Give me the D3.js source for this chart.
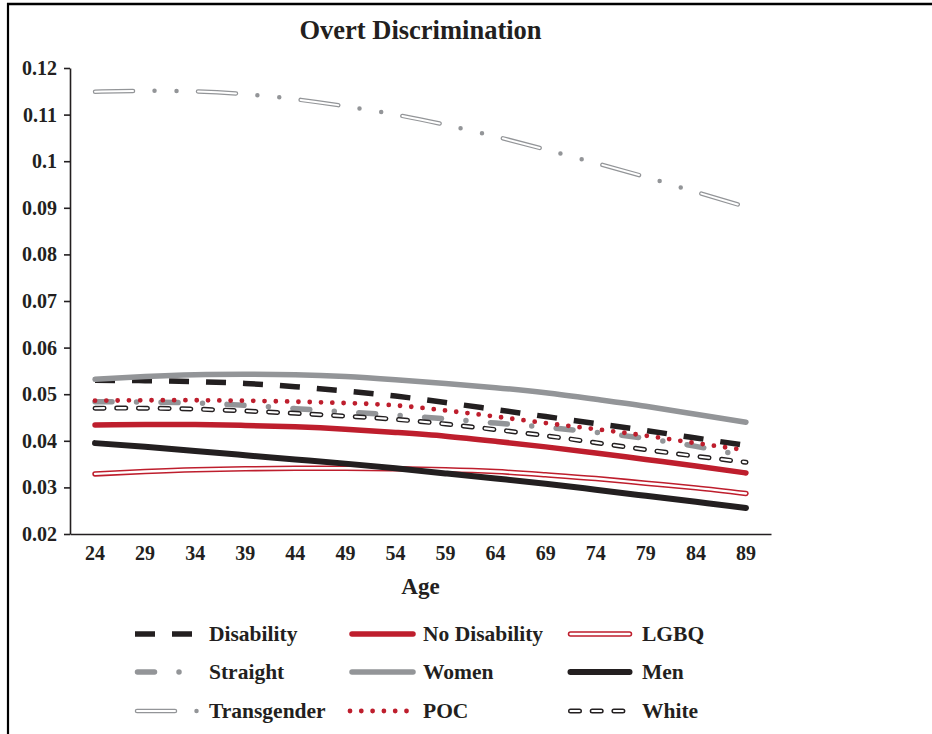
<!DOCTYPE html>
<html>
<head>
<meta charset="utf-8">
<title>Overt Discrimination</title>
<style>
  body { margin: 0; background: #fff; }
  svg { font-family: "Liberation Serif", "Times New Roman", serif; font-weight: bold; }
  .axis path, .axis line { stroke: #231f20; stroke-width: 1.6; }
  .axis text { fill: #231f20; font-size: 20px; font-family: "Liberation Serif", serif; font-weight: bold; }
</style>
</head>
<body>
<div id="chart"></div>
<script src="https://cdn.jsdelivr.net/npm/d3@7"></script>
<script>
// ages on the x axis
var ages = [24, 29, 34, 39, 44, 49, 54, 59, 64, 69, 74, 79, 84, 89];
var yTicks = [0.02, 0.03, 0.04, 0.05, 0.06, 0.07, 0.08, 0.09, 0.1, 0.11, 0.12];

// predicted values
var disability   = [0.0530, 0.0529, 0.0527, 0.0523, 0.0516, 0.0507, 0.0496, 0.0482, 0.0467, 0.0452, 0.0437, 0.0422, 0.0406, 0.0390];
var noDisability = [0.0434, 0.0435, 0.0435, 0.0433, 0.0430, 0.0425, 0.0418, 0.0410, 0.0399, 0.0387, 0.0374, 0.0360, 0.0346, 0.0331];
var lgbq         = [0.0329, 0.0334, 0.0338, 0.0340, 0.0341, 0.0341, 0.0340, 0.0338, 0.0334, 0.0327, 0.0319, 0.0309, 0.0299, 0.0287];
var straight     = [0.0484, 0.0483, 0.0481, 0.0476, 0.0469, 0.0462, 0.0455, 0.0447, 0.0438, 0.0429, 0.0418, 0.0405, 0.0388, 0.0367];
var women        = [0.0532, 0.0538, 0.0542, 0.0543, 0.0542, 0.0538, 0.0531, 0.0523, 0.0514, 0.0503, 0.0489, 0.0474, 0.0457, 0.0440];
var men          = [0.0395, 0.0387, 0.0378, 0.0369, 0.0360, 0.0351, 0.0341, 0.0330, 0.0319, 0.0308, 0.0295, 0.0282, 0.0269, 0.0256];
var transgender  = [0.1149, 0.1151, 0.1150, 0.1144, 0.1133, 0.1118, 0.1100, 0.1078, 0.1053, 0.1025, 0.0996, 0.0966, 0.0934, 0.0902];
var poc          = [0.0486, 0.0487, 0.0487, 0.0486, 0.0484, 0.0481, 0.0476, 0.0465, 0.0452, 0.0438, 0.0425, 0.0411, 0.0395, 0.0380];
var white        = [0.0470, 0.0470, 0.0468, 0.0464, 0.0459, 0.0453, 0.0446, 0.0436, 0.0424, 0.0411, 0.0396, 0.0381, 0.0367, 0.0354];

var black = "#231f20", red = "#be1e2d", gray = "#939598";

// styles (kept apart from the data)
var series = [
  {name: "Disability",    values: disability,   color: black, width: 5.5, dash: "20 17", cap: "butt", inset: 0, len: 58},
  {name: "No Disability", values: noDisability, color: red,   width: 5.5, dash: null, cap: "round", inset: 2, len: 61},
  {name: "LGBQ",          values: lgbq,         color: red,   width: 5.5, dash: null, cap: "round", inset: 2.5, len: 59, inner: 2.4},
  {name: "Straight",      values: straight,     color: gray,  width: 5.5, dash: "17 24.5 0 24.5", cap: "round", inset: 2.5, len: 42.5},
  {name: "Women",         values: women,        color: gray,  width: 5.5, dash: null, cap: "round", inset: 2, len: 61},
  {name: "Men",           values: men,          color: black, width: 6,   dash: null, cap: "round", inset: 2.5, len: 59},
  {name: "Transgender",   values: transgender,  color: gray,  width: 4.5, dash: "38 21.5 0 22 0 21.5", cap: "round", inset: 2, len: 60, inner: 2, innerDash: "38 65"},
  {name: "POC",           values: poc,          color: red,   width: 4.8, dash: "0 11.3", cap: "round", inset: 0, len: 57},
  {name: "White",         values: white,        color: black, width: 5,   dash: "9 12.7", cap: "round", inset: 2.5, len: 52.5, inner: 2.1, innerDash: "9 12.7"}
];

var W = 932, H = 734;
var plot = {left: 70, right: 771, top: 68, bottom: 534};

var svg = d3.select("#chart").append("svg")
  .attr("width", W).attr("height", H);

// frame lines
svg.append("line").attr("x1", 7).attr("x2", W).attr("y1", 4).attr("y2", 4)
  .attr("stroke", "#000").attr("stroke-width", 2.5);
svg.append("line").attr("x1", 8).attr("x2", 8).attr("y1", 3).attr("y2", H)
  .attr("stroke", "#000").attr("stroke-width", 2.2);

var x = d3.scaleBand().domain(ages).range([plot.left, plot.right]).padding(0);
var y = d3.scaleLinear().domain([0.02, 0.12]).range([plot.bottom, plot.top]);
var xc = function(a) { return x(a) + x.bandwidth() / 2; };

svg.append("g").attr("class", "axis")
  .attr("transform", "translate(" + plot.left + ",0)")
  .call(d3.axisLeft(y).tickValues(yTicks).tickSize(6).tickSizeOuter(0).tickPadding(7)
    .tickFormat(function(d) { return d3.format("")(+d.toFixed(2)); }));

svg.append("g").attr("class", "axis")
  .attr("transform", "translate(0," + plot.bottom + ")")
  .call(d3.axisBottom(x).tickSize(0).tickPadding(12));

svg.append("text").attr("x", (plot.left + plot.right) / 2).attr("y", 39)
  .attr("text-anchor", "middle").attr("font-size", 26.5).attr("fill", black)
  .text("Overt Discrimination");

svg.append("text").attr("x", (plot.left + plot.right) / 2).attr("y", 594)
  .attr("text-anchor", "middle").attr("font-size", 23).attr("fill", black)
  .text("Age");

var line = d3.line()
  .x(function(d, i) { return xc(ages[i]); })
  .y(function(d) { return y(d); })
  .curve(d3.curveNatural);

function stroke(sel, s) {
  sel.attr("fill", "none").attr("stroke", s.color).attr("stroke-width", s.width)
    .attr("stroke-linecap", s.cap).attr("stroke-dasharray", s.dash);
}
function innerStroke(sel, s) {
  sel.attr("fill", "none").attr("stroke", "#fff").attr("stroke-width", s.inner)
    .attr("stroke-linecap", s.cap).attr("stroke-dasharray", s.innerDash || null);
}

var lines = svg.append("g");
series.forEach(function(s) {
  lines.append("path").attr("d", line(s.values)).call(stroke, s);
  if (s.inner) lines.append("path").attr("d", line(s.values)).call(innerStroke, s);
});

// legend
var colSample = [135, 350, 568], colText = [209, 423, 642], rowY = [634, 672, 711];
var legend = svg.append("g");
series.forEach(function(s, i) {
  var c = i % 3, r = Math.floor(i / 3);
  var x0 = colSample[c] + s.inset, yy = rowY[r];
  var d = "M" + x0 + "," + yy + "H" + (x0 + s.len);
  legend.append("path").attr("d", d).call(stroke, s);
  if (s.inner) legend.append("path").attr("d", d).call(innerStroke, s);
  legend.append("text").attr("x", colText[c]).attr("y", yy + 7)
    .attr("font-size", 21.5).attr("fill", black).text(s.name);
});
</script>
</body>
</html>
